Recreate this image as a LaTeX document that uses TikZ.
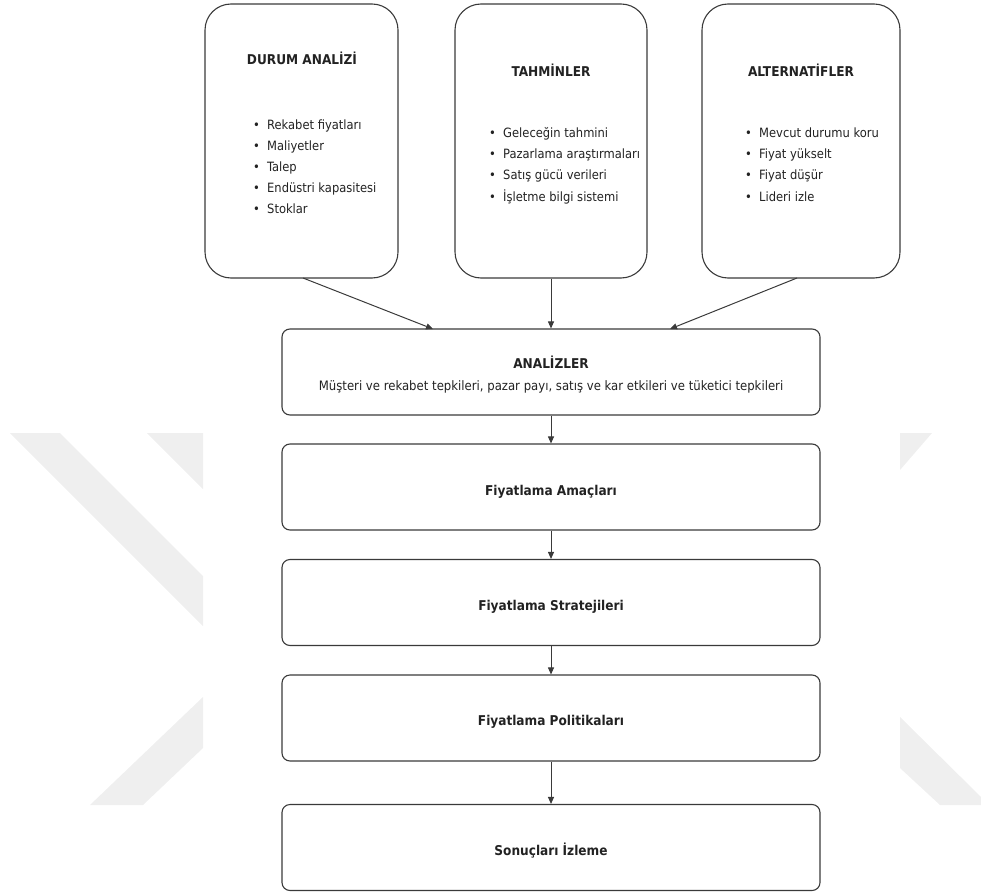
\documentclass[tikz,border=0pt]{standalone}
\usepackage{fontspec}
\setmainfont{DejaVu Sans Condensed}
\usetikzlibrary{arrows.meta}
\definecolor{edge}{HTML}{3A3A3A}
\definecolor{ink}{HTML}{222222}
\definecolor{chevron}{HTML}{EFEFEF}
\newcommand\bitem[1]{\makebox[14pt][l]{\textbullet}#1}
\tikzset{
  x=1pt, y=-1pt,
  tallbox/.style={draw=edge, line width=1.1pt, rounded corners=26pt, minimum width=#1, minimum height=274pt, inner sep=0pt},
  widebox/.style={draw=edge, line width=1.1pt, rounded corners=8pt, minimum width=538pt, minimum height=86pt, inner sep=0pt},
  head/.style={font=\bfseries\fontsize{13.5}{16}\selectfont, text=ink, inner sep=0pt, anchor=base},
  body/.style={font=\fontsize{12.8}{15}\selectfont, text=ink, inner sep=0pt, anchor=base west},
  sub/.style={font=\fontsize{13}{15}\selectfont, text=ink, inner sep=0pt, anchor=base},
  link/.style={draw=edge, line width=1pt, -{Triangle[length=7pt,width=6pt]}},
}
\begin{document}
\begin{tikzpicture}
\useasboundingbox (0,0) rectangle (981,893);
% faint background chevrons
\fill[chevron] (10,433) -- (60,433) -- (203,576) -- (203,626) -- cycle;
\fill[chevron] (147,433) -- (203,433) -- (203,489) -- cycle;
\fill[chevron] (203,697) -- (203,748) -- (143,805) -- (90,805) -- cycle;
\fill[chevron] (900,433) -- (932,433) -- (900,470) -- cycle;
\fill[chevron] (900,717) -- (981,797) -- (981,805) -- (940,805) -- (900,768) -- cycle;

% upper input boxes
\node[tallbox=193pt] (durum) at (301.5,141) {};
\node[tallbox=192pt] (tahmin) at (551,141) {};
\node[tallbox=198pt] (alter) at (801,141) {};

\node[head] (durumT) at (302,65) {DURUM ANALİZİ};
\node[head] (tahminT) at (551,76.5) {TAHMİNLER};
\node[head] (alterT) at (801,76.5) {ALTERNATİFLER};

\foreach \t [count=\i] in {Rekabet fiyatları, Maliyetler, Talep, Endüstri kapasitesi, Stoklar}
  \node[body] (durumL\i) at (253,{109+21*\i}) {\bitem{\t}};
\foreach \t [count=\i] in {Geleceğin tahmini, Pazarlama araştırmaları, Satış gücü verileri, İşletme bilgi sistemi}
  \node[body] (tahminL\i) at (489,{116+21.3*\i}) {\bitem{\t}};
\foreach \t [count=\i] in {Mevcut durumu koru, Fiyat yükselt, Fiyat düşür, Lideri izle}
  \node[body] (alterL\i) at (745,{116+21.3*\i}) {\bitem{\t}};

% main sequence
\node[widebox] (analiz) at (551,372) {};
\node[widebox] (amac) at (551,487) {};
\node[widebox] (strat) at (551,602.5) {};
\node[widebox] (polit) at (551,718) {};
\node[widebox] (sonuc) at (551,847.5) {};

\node[head] (analizT) at (551,368) {ANALİZLER};
\node[sub] (analizS) at (551,390) {Müşteri ve rekabet tepkileri, pazar payı, satış ve kar etkileri ve tüketici tepkileri};
\node[head] (amacT) at (551,495) {Fiyatlama Amaçları};
\node[head] (stratT) at (551,610) {Fiyatlama Stratejileri};
\node[head] (politT) at (551,725) {Fiyatlama Politikaları};
\node[head] (sonucT) at (551,855) {Sonuçları İzleme};

% connectors
\coordinate (dOut) at (303,278);
\coordinate (aIn) at (433,329);
\coordinate (rOut) at (797,278);
\coordinate (rIn) at (670,329);
\draw[link] (dOut) -- (aIn);
\draw[link] (tahmin.south) -- (analiz.north);
\draw[link] (rOut) -- (rIn);
\draw[link] (analiz) -- (amac);
\draw[link] (amac) -- (strat);
\draw[link] (strat) -- (polit);
\draw[link] (polit) -- (sonuc);
\end{tikzpicture}
\end{document}
